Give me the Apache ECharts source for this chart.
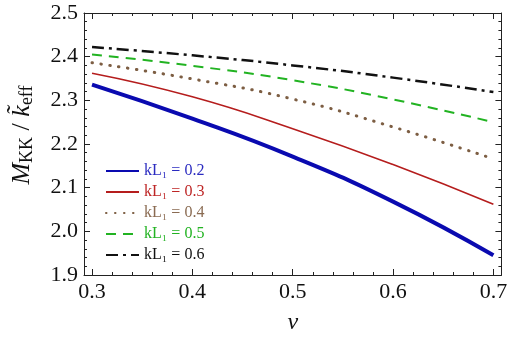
<!DOCTYPE html>
<html>
<head>
<meta charset="utf-8">
<script src="https://cdn.jsdelivr.net/npm/echarts@6/dist/echarts.min.js"></script>
<style>
  html,body{margin:0;padding:0;background:#fff;}
  #chart{width:510px;height:340px;}
</style>
</head>
<body>
<div id="chart"></div>
<script>
// nu values where the curves were read
const nuValues=[0.3,0.4,0.5,0.6,0.7]
const kL02=[2.336,2.258,2.171,2.068,1.945]
const kL03=[2.362,2.308,2.235,2.153,2.062]
const kL04=[2.386,2.349,2.303,2.239,2.166]
const kL05=[2.405,2.379,2.346,2.302,2.250]
const kL06=[2.422,2.403,2.380,2.352,2.319]
const seriesNames=['kL₁ = 0.2','kL₁ = 0.3','kL₁ = 0.4','kL₁ = 0.5','kL₁ = 0.6']
const xTicks=[0.3,0.4,0.5,0.6,0.7]
const xMinorTicks=[]
for(let i=0;i<xTicks.length-1;i++){
  for(let j=1;j<5;j++) xMinorTicks.push(+(xTicks[i]+j*0.02).toFixed(2))
}

const chart=echarts.init(document.getElementById('chart'))
const serif='Liberation Serif'

const pairs=(ys)=>nuValues.map((x,i)=>[x,ys[i]])

const xBase=(pos,ticks,len,showLine,showLabel)=>({
  type:'value',
  position:pos,
  min:0.292,
  max:0.708,
  splitLine:{show:false},
  axisLine:{show:showLine,onZero:false,lineStyle:{color:'#222',width:1}},
  axisTick:{show:true,inside:true,length:len,customValues:ticks,lineStyle:{color:'#222',width:1}},
  axisLabel:{show:showLabel,customValues:xTicks,margin:6,fontFamily:serif,fontSize:22,color:'#111',
    formatter:(v)=>v.toFixed(1)}
})

const yBase=(pos,showLabel)=>({
  type:'value',
  position:pos,
  min:1.9,
  max:2.5,
  interval:0.1,
  splitLine:{show:false},
  axisLine:{show:true,onZero:false,lineStyle:{color:'#222',width:1}},
  axisTick:{show:true,inside:true,length:6,lineStyle:{color:'#222',width:1}},
  minorTick:{show:true,splitNumber:5,length:3,lineStyle:{color:'#222',width:1}},
  axisLabel:{show:showLabel,margin:6,fontFamily:serif,fontSize:22,color:'#111',
    formatter:(v)=>v.toFixed(1)}
})

let xMain=xBase('bottom',xTicks,6,true,true)
xMain.name='ν'
xMain.nameLocation='middle'
xMain.nameGap=36
xMain.nameTextStyle={fontFamily:serif,fontStyle:'italic',fontSize:24,color:'#111'}

let yMain=yBase('left',true)
yMain.name='{i|M}{s|KK}{r| / }{i|k̃}{s|eff}'
yMain.nameLocation='middle'
yMain.nameGap=48
yMain.nameTextStyle={
  fontFamily:serif,fontSize:24,color:'#111',lineHeight:32,padding:[0,0,0,18],
  rich:{
    i:{fontFamily:serif,fontStyle:'italic',fontSize:26,color:'#111',verticalAlign:'middle',lineHeight:28},
    r:{fontFamily:serif,fontSize:26,color:'#111',verticalAlign:'middle',lineHeight:28},
    s:{fontFamily:serif,fontSize:18,color:'#111',verticalAlign:'bottom',lineHeight:18}
  }
}

const styles=[
  {color:'#0a0ab0',width:4,type:'solid',cap:'butt',text:'#2b2bc0'},
  {color:'#b51d1d',width:1.6,type:'solid',cap:'butt',text:'#be2626'},
  {color:'#7d5e43',width:3,type:[0.5,8.5],cap:'round',text:'#8a6b52'},
  {color:'#22b322',width:2,type:[10,7],cap:'butt',text:'#22b322'},
  {color:'#111111',width:2.5,type:[12,5,3,5],cap:'butt',text:'#111'}
]
const allData=[kL02,kL03,kL04,kL05,kL06]

let option={
  backgroundColor:'#fff',
  animation:false,
  grid:{left:77,right:6,top:13,bottom:63,show:false},
  legend:{
    orient:'vertical',
    left:100,
    top:158,
    itemWidth:33,
    itemHeight:12,
    itemGap:5,
    itemStyle:{opacity:0},
    textStyle:{fontFamily:serif,fontSize:16},
    data:seriesNames.map((n,i)=>({name:n,textStyle:{color:styles[i].text}}))
  },
  xAxis:[
    xMain,
    xBase('bottom',xMinorTicks,3,false,false),
    xBase('top',xTicks,6,true,false),
    xBase('top',xMinorTicks,3,false,false)
  ],
  yAxis:[yMain,yBase('right',false)],
  series:allData.map((d,i)=>({
    name:seriesNames[i],
    type:'line',
    xAxisIndex:0,
    yAxisIndex:0,
    smooth:0.5,
    symbol:'none',
    data:pairs(d),
    lineStyle:{color:styles[i].color,width:styles[i].width,type:styles[i].type,cap:styles[i].cap},
    itemStyle:{color:styles[i].color}
  }))
}
chart.setOption(option)
</script>
</body>
</html>
